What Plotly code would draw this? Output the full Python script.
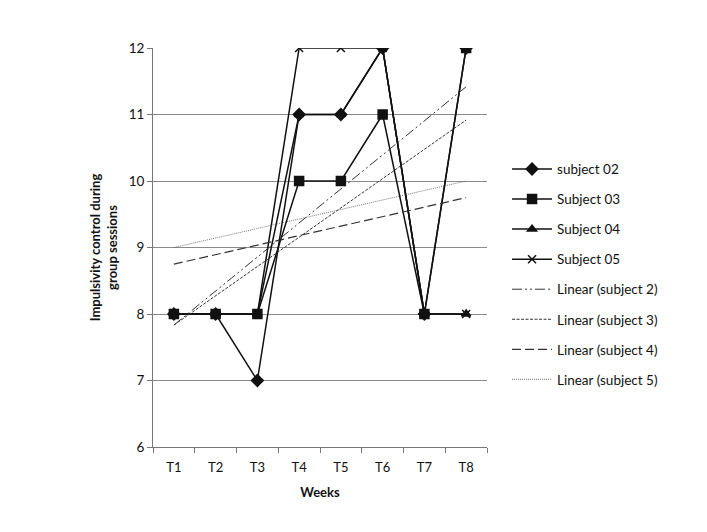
import numpy as np
import plotly.graph_objects as go

weeks = ["T1", "T2", "T3", "T4", "T5", "T6", "T7", "T8"]
subject02 = [8, 8, 7, 11, 11, 12, 8, 12]
subject03 = [8, 8, 8, 10, 10, 11, 8, 12]
subject04 = [8, 8, 8, 11, 11, 12, 8, 8]
subject05 = [8, 8, 8, 12, 12, 12, 8, 8]

FONT = "Lato"
INK = "#111111"

def trend(vals):
    x = np.arange(1, len(vals) + 1)
    m, b = np.polyfit(x, vals, 1)
    return list(m * x + b)

fig = go.Figure()

series = [
    ("subject 02", subject02, "diamond", 9, 1),
    ("Subject 03", subject03, "square", 9, 2),
    ("Subject 04", subject04, "triangle-up", 8, 3),
    ("Subject 05", subject05, "x-thin", 8, 4),
]
# draw order: triangle, diamond, x, square (square ends on top)
draw_order = [2, 0, 3, 1]
for i in draw_order:
    name, vals, sym, sz, rank = series[i]
    fig.add_trace(go.Scatter(
        x=weeks, y=vals, name=name, mode="lines+markers",
        line=dict(color=INK, width=1.5),
        marker=dict(symbol=sym, size=sz, color=INK,
                    line=dict(color=INK, width=1.5)),
        legendrank=rank, legendgroup=name,
    ))

trends = [
    ("Linear (subject 2)", subject02, "10px,3px,2px,3px,2px,3px", 1.0, "#333333", 5),
    ("Linear (subject 3)", subject03, "3px,1.5px", 1.0, "#333333", 6),
    ("Linear (subject 4)", subject04, "9px,4px", 1.2, "#333333", 7),
    ("Linear (subject 5)", subject05, "1px,1px", 0.8, "#555555", 8),
]
for name, vals, dash, w, col, rank in trends:
    fig.add_trace(go.Scatter(
        x=weeks, y=trend(vals), name=name, mode="lines",
        line=dict(color=col, width=w, dash=dash),
        legendrank=rank, legendgroup=name,
    ))

fig.update_layout(
    width=707, height=532,
    margin=dict(l=153, r=220, t=48, b=85),
    paper_bgcolor="white", plot_bgcolor="white",
    font=dict(family=FONT, size=12, color=INK),
    showlegend=True,
    legend=dict(x=1.06, y=0.735, xanchor="left", yanchor="top",
                font=dict(family=FONT, size=13.5, color=INK),
                tracegroupgap=9.5, itemwidth=40,
                bgcolor="rgba(0,0,0,0)"),
)
fig.update_xaxes(
    type="category", categoryorder="array", categoryarray=weeks,
    range=[-0.5, 7.5], tickson="boundaries",
    ticks="outside", ticklen=5, tickcolor="#777777",
    showline=True, linecolor="#777777", linewidth=1,
    showgrid=False, zeroline=False, ticklabelstandoff=8,
    tickfont=dict(family=FONT, size=13, color=INK),
    title=dict(text="<b>Weeks</b>", font=dict(family=FONT, size=13, color=INK), standoff=14),
)
fig.update_yaxes(
    range=[6, 12], dtick=1, tick0=6,
    ticks="outside", ticklen=5, tickcolor="#777777",
    showline=True, linecolor="#777777", linewidth=1,
    showgrid=True, gridcolor="#8a8a8a", gridwidth=1, zeroline=False,
    tickfont=dict(family=FONT, size=13.5, color=INK),
    title=dict(text="<b>Impulsivity control during<br>group sessions</b>",
               font=dict(family=FONT, size=13, color=INK), standoff=8),
)

fig.write_html("out.html")
